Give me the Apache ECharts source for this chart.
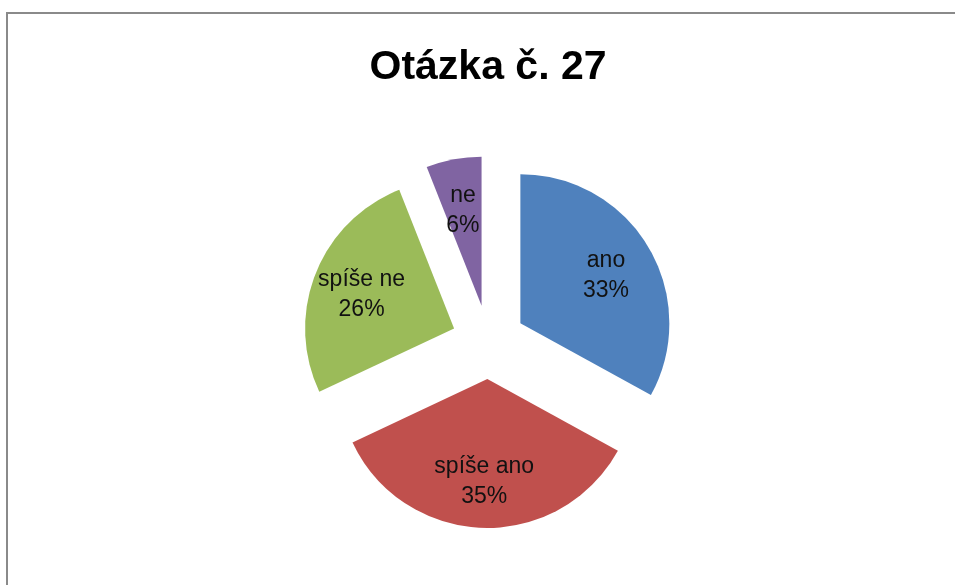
<!DOCTYPE html>
<html>
<head>
<meta charset="utf-8">
<title>Otázka č. 27</title>
<script src="https://cdn.jsdelivr.net/npm/echarts@6/dist/echarts.min.js"></script>
<style>
  html, body { margin: 0; padding: 0; background: #fff; }
  #chart { width: 955px; height: 585px; }
</style>
</head>
<body>
<div id="chart"></div>
<script>
// data
var categories = ['ano', 'spíše ano', 'spíše ne', 'ne'];
var values = [33, 35, 26, 6];
var colors = ['#4F81BD', '#C0504D', '#9BBB59', '#8064A2'];

var total = values.reduce(function (a, b) { return a + b; }, 0);

// mid angle of each slice (clockwise from 12 o'clock), used to push labels outward a bit
var midAngles = [];
var acc = 0;
values.forEach(function (v) {
  midAngles.push((acc + v / 2) / total * Math.PI * 2);
  acc += v;
});

var myChart = echarts.init(document.getElementById('chart'));

myChart.setOption({
  animation: false,
  title: {
    text: 'Otázka č. 27',
    left: 483,
    top: 42,
    textAlign: 'center',
    textStyle: {
      fontFamily: 'Liberation Sans',
      fontWeight: 'bold',
      fontSize: 41,
      color: '#000'
    }
  },
  graphic: [{
    type: 'rect',
    shape: { x: 7, y: 13, width: 1000, height: 700 },
    style: { fill: 'none', stroke: '#8a8a8a', lineWidth: 2 },
    silent: true
  }],
  series: [{
    type: 'pie',
    center: [488.5, 342],
    radius: 149,
    startAngle: 90,
    clockwise: true,
    selectedMode: 'multiple',
    selectedOffset: 37,
    emphasis: { disabled: true },
    select: { itemStyle: { borderWidth: 0 } },
    itemStyle: { borderWidth: 0 },
    label: {
      position: 'inside',
      formatter: function (p) {
        return p.name + '\n' + Math.round(p.percent) + '%';
      },
      fontFamily: 'Liberation Sans',
      fontSize: 23,
      lineHeight: 30,
      color: '#111'
    },
    labelLine: { show: false },
    labelLayout: function (params) {
      var a = midAngles[params.dataIndex];
      return { dx: Math.sin(a) * 22, dy: -Math.cos(a) * 22 + 3 };
    },
    data: categories.map(function (name, i) {
      return {
        name: name,
        value: values[i],
        selected: true,
        itemStyle: { color: colors[i] }
      };
    })
  }]
});

window.addEventListener('resize', function () {
  myChart.resize();
});
</script>
</body>
</html>
